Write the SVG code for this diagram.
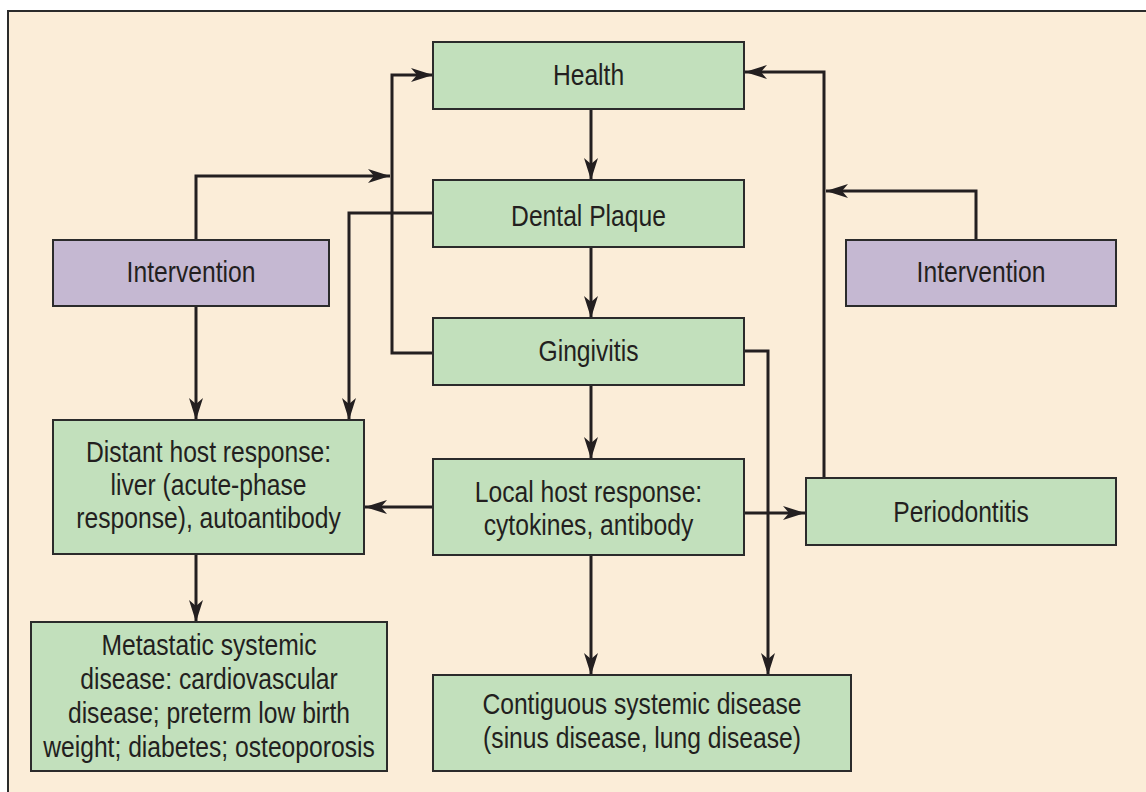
<svg xmlns="http://www.w3.org/2000/svg" width="1146" height="792" viewBox="0 0 1146 792">
<defs>
<marker id="ah" viewBox="0 0 22 14" refX="22" refY="7" markerWidth="22" markerHeight="14" markerUnits="userSpaceOnUse" orient="auto">
<path d="M0,0 L22,7 L0,14 L6,7 Z" fill="#231f20"/>
</marker>
<style>
.box{stroke:#2b2b2b;stroke-width:2}
.g{fill:#c2e0bc}
.p{fill:#c5b8d2}
.t{font-family:"Liberation Sans",Arial,sans-serif;font-size:29px;fill:#231f20;text-anchor:middle}
.c{fill:none;stroke:#231f20;stroke-width:3}
.a{marker-end:url(#ah)}
</style>
</defs>
<rect x="0" y="0" width="1146" height="792" fill="#ffffff"/>
<rect x="8" y="11" width="1150" height="800" fill="#fbedd8" stroke="#2b2b2b" stroke-width="2"/>
<g id="connectors">
<path class="c a" d="M591,109 V180"/>
<path class="c a" d="M591,247 V318"/>
<path class="c a" d="M591,385 V459"/>
<path class="c a" d="M591,555 V675"/>
<path class="c a" d="M434,507 H365"/>
<path class="c a" d="M744,513 H805"/>
<path class="c a" d="M744,351 H768 V675"/>
<path class="c a" d="M434,353 H392 V75 H433"/>
<path class="c a" d="M196,240 V176 H390"/>
<path class="c a" d="M196,306 V420"/>
<path class="c a" d="M434,213 H349 V420"/>
<path class="c a" d="M824,478 V72 H745"/>
<path class="c a" d="M976,240 V191 H826"/>
<path class="c a" d="M196,554 V622"/>
</g>
<g id="health"><rect class="box g" x="433" y="42" width="311" height="67"/><text class="t" transform="translate(588.5,0) scale(0.85,1)" y="85">Health</text></g>
<g id="plaque"><rect class="box g" x="433" y="180" width="311" height="67"/><text class="t" transform="translate(588.5,0) scale(0.85,1)" y="226">Dental Plaque</text></g>
<g id="gingivitis"><rect class="box g" x="433" y="318" width="311" height="67"/><text class="t" transform="translate(588.5,0) scale(0.85,1)" y="361">Gingivitis</text></g>
<g id="local"><rect class="box g" x="433" y="459" width="311" height="96"/><text class="t" transform="translate(588.5,0) scale(0.85,1)" y="502">Local host response:</text><text class="t" transform="translate(588.5,0) scale(0.85,1)" y="535">cytokines, antibody</text></g>
<g id="periodontitis"><rect class="box g" x="806" y="478" width="310" height="67"/><text class="t" transform="translate(961,0) scale(0.85,1)" y="522">Periodontitis</text></g>
<g id="intervention-left"><rect class="box p" x="53" y="240" width="276" height="66"/><text class="t" transform="translate(191,0) scale(0.85,1)" y="282">Intervention</text></g>
<g id="intervention-right"><rect class="box p" x="846" y="240" width="270" height="66"/><text class="t" transform="translate(981,0) scale(0.85,1)" y="282">Intervention</text></g>
<g id="distant"><rect class="box g" x="53" y="420" width="311" height="134"/><text class="t" transform="translate(208.5,0) scale(0.85,1)" y="462">Distant host response:</text><text class="t" transform="translate(208.5,0) scale(0.85,1)" y="495">liver (acute-phase</text><text class="t" transform="translate(208.5,0) scale(0.85,1)" y="528">response), autoantibody</text></g>
<g id="metastatic"><rect class="box g" x="31" y="622" width="356" height="149"/><text class="t" transform="translate(209,0) scale(0.85,1)" y="655">Metastatic systemic</text><text class="t" transform="translate(209,0) scale(0.85,1)" y="689">disease: cardiovascular</text><text class="t" transform="translate(209,0) scale(0.85,1)" y="723">disease; preterm low birth</text><text class="t" transform="translate(209,0) scale(0.85,1)" y="757">weight; diabetes; osteoporosis</text></g>
<g id="contiguous"><rect class="box g" x="433" y="675" width="418" height="96"/><text class="t" transform="translate(642,0) scale(0.85,1)" y="714">Contiguous systemic disease</text><text class="t" transform="translate(642,0) scale(0.85,1)" y="748">(sinus disease, lung disease)</text></g>
</svg>
